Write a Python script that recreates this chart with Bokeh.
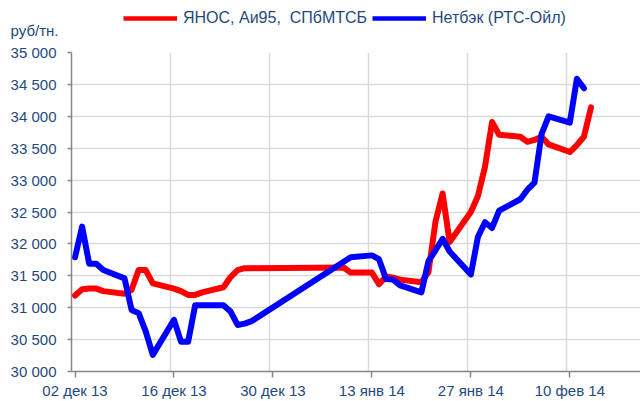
import pandas as pd
from bokeh.plotting import figure
from bokeh.layouts import column
from bokeh.models import FixedTicker, Legend, LegendItem, LinearAxis, Range1d
from bokeh.embed import file_html
from bokeh.resources import INLINE

# ---------------- data ----------------
start_date = "2013-12-02"

yanos_dates = [
    "2013-12-02", "2013-12-03", "2013-12-04", "2013-12-05", "2013-12-06",
    "2013-12-09", "2013-12-10", "2013-12-11", "2013-12-12", "2013-12-13",
    "2013-12-16", "2013-12-17", "2013-12-18", "2013-12-19", "2013-12-20",
    "2013-12-23", "2013-12-24", "2013-12-25", "2013-12-26", "2013-12-27",
    "2014-01-09", "2014-01-10",
    "2014-01-13", "2014-01-14", "2014-01-15", "2014-01-16", "2014-01-17",
    "2014-01-20", "2014-01-21", "2014-01-22", "2014-01-23", "2014-01-24",
    "2014-01-27", "2014-01-28", "2014-01-29", "2014-01-30", "2014-01-31",
    "2014-02-03", "2014-02-04", "2014-02-05", "2014-02-06", "2014-02-07",
    "2014-02-10", "2014-02-11", "2014-02-12", "2014-02-13",
]
yanos_values = [
    31190, 31290, 31300, 31300, 31260,
    31220, 31280, 31590, 31590, 31380,
    31300, 31260, 31200, 31200, 31240,
    31320, 31480, 31590, 31620, 31620,
    31630, 31550,
    31550, 31370, 31490, 31470, 31440,
    31400, 31560, 32350, 32790, 32030,
    32500, 32750, 33210, 33910, 33710,
    33680, 33600, 33630, 33680, 33560,
    33440, 33550, 33680, 34140,
]

netback_dates = [
    "2013-12-02", "2013-12-03", "2013-12-04", "2013-12-05", "2013-12-06",
    "2013-12-09", "2013-12-10", "2013-12-11", "2013-12-12", "2013-12-13",
    "2013-12-16", "2013-12-17", "2013-12-18", "2013-12-19", "2013-12-20",
    "2013-12-23", "2013-12-24", "2013-12-25", "2013-12-26", "2013-12-27",
    "2014-01-10",
    "2014-01-13", "2014-01-14", "2014-01-15", "2014-01-16", "2014-01-17",
    "2014-01-20", "2014-01-21", "2014-01-22", "2014-01-23", "2014-01-24",
    "2014-01-27", "2014-01-28", "2014-01-29", "2014-01-30", "2014-01-31",
    "2014-02-03", "2014-02-04", "2014-02-05", "2014-02-06", "2014-02-07",
    "2014-02-10", "2014-02-11", "2014-02-12",
]
netback_values = [
    31790, 32270, 31690, 31690, 31590,
    31460, 30965, 30915, 30630, 30260,
    30810, 30465, 30465, 31040, 31040,
    31040, 30940, 30730, 30750, 30790,
    31790,
    31820, 31760, 31450, 31440, 31350,
    31240, 31730, 31900, 32080, 31880,
    31520, 32110, 32340, 32250, 32520,
    32700, 32850, 32960, 33720, 34000,
    33900, 34590, 34440,
]

x_tick_dates = ["2013-12-02", "2013-12-16", "2013-12-30",
                "2014-01-13", "2014-01-27", "2014-02-10"]
x_tick_labels = ["02 дек 13", "16 дек 13", "30 дек 13",
                 "13 янв 14", "27 янв 14", "10 фев 14"]
y_ticks = [30000, 30500, 31000, 31500, 32000, 32500,
           33000, 33500, 34000, 34500, 35000]
y_tick_labels = ["30 000", "30 500", "31 000", "31 500", "32 000", "32 500",
                 "33 000", "33 500", "34 000", "34 500", "35 000"]

series_names = ["ЯНОС, Аи95,  СПбМТСБ", "Нетбэк (РТС-Ойл)"]
series_colors = ["#FF0000", "#0000FF"]
unit_label = "руб/тн."

# ---------------- helpers ----------------
t0 = pd.Timestamp(start_date)


def day_offset(dates):
    return [(pd.Timestamp(d) - t0).days for d in dates]


HALF = 0.5  # points / labels sit in the middle of each day slot
FONT = "Liberation Sans"
TXT = "#1F497D"
AXIS = "#868686"
GRID = "#D9D9D9"
W = 640
HEAD_H = 40
LEFT = 71

x_tick_days = day_offset(x_tick_dates)
x_label_pos = [d + HALF for d in x_tick_days]
series = [(day_offset(yanos_dates), yanos_values),
          (day_offset(netback_dates), netback_values)]

# ---------------- header (legend keys + unit label) ----------------
head = figure(width=W, height=HEAD_H, output_backend="svg", toolbar_location=None,
              x_range=Range1d(0, 1), y_range=Range1d(HEAD_H, 0),
              x_axis_location=None, y_axis_location=None,
              min_border=0, min_border_left=LEFT, min_border_right=0,
              min_border_top=0, min_border_bottom=0)
head.outline_line_color = None
head.xgrid.visible = False
head.ygrid.visible = False

# the unit label is drawn as the single tick label of a bare left axis
unit_axis = LinearAxis(ticker=FixedTicker(ticks=[30]),
                       major_label_overrides={30: unit_label},
                       axis_line_color=None, major_tick_line_color=None,
                       minor_tick_line_color=None, major_tick_out=0,
                       major_tick_in=0, major_label_standoff=13,
                       major_label_text_font=FONT,
                       major_label_text_font_size="15px",
                       major_label_text_color=TXT)
head.add_layout(unit_axis, "left")

# key renderers: same series data, which falls outside the header's ranges
key_x = [52, 301]  # left edge of each legend key, px from the frame's left
for (xs, ys), name, col, kx in zip(series, series_names, series_colors, key_x):
    r = head.line(xs, ys, line_width=4.5, line_color=col)
    head.add_layout(Legend(items=[LegendItem(label=name, renderers=[r])],
                           orientation="horizontal", location=(kx, 13),
                           glyph_width=54, glyph_height=16, label_height=16,
                           label_standoff=6, spacing=0, padding=0, margin=0,
                           border_line_color=None, background_fill_alpha=0,
                           label_text_font=FONT, label_text_font_size="16px",
                           label_text_color=TXT), "center")

# ---------------- main chart ----------------
p = figure(width=W, height=401 - HEAD_H, output_backend="svg", toolbar_location=None,
           x_range=Range1d(0, 80.5), y_range=Range1d(30000, 35000),
           min_border_left=LEFT, min_border_right=0, min_border_top=12,
           min_border_bottom=27)
p.outline_line_color = None
p.background_fill_color = "white"
p.border_fill_color = "white"

for (xs, ys), col in zip(series, series_colors):
    p.line([d + HALF for d in xs], ys, line_width=6, line_color=col,
           line_join="round", line_cap="round")

# x axis: labels centred in the day slot, grid on the day boundary
p.xaxis.ticker = FixedTicker(ticks=x_label_pos)
p.xaxis.major_label_overrides = dict(zip(x_label_pos, x_tick_labels))
p.xaxis.minor_tick_line_color = None
p.xaxis.major_tick_out = 6
p.xaxis.major_tick_in = 0
p.xaxis.major_label_standoff = 4
p.xaxis.axis_line_color = AXIS
p.xaxis.axis_line_width = 1.5
p.xaxis.major_tick_line_color = AXIS
p.xaxis.major_tick_line_width = 1.5
p.xaxis.major_label_text_font = FONT
p.xaxis.major_label_text_font_size = "15px"
p.xaxis.major_label_text_color = TXT

p.yaxis.ticker = FixedTicker(ticks=y_ticks)
p.yaxis.major_label_overrides = dict(zip(y_ticks, y_tick_labels))
p.yaxis.minor_tick_line_color = None
p.yaxis.major_tick_out = 4
p.yaxis.major_tick_in = 0
p.yaxis.major_label_standoff = 11
p.yaxis.axis_line_color = AXIS
p.yaxis.axis_line_width = 1.5
p.yaxis.major_tick_line_color = AXIS
p.yaxis.major_tick_line_width = 1.5
p.yaxis.major_label_text_font = FONT
p.yaxis.major_label_text_font_size = "15px"
p.yaxis.major_label_text_color = TXT

p.xgrid.ticker = FixedTicker(ticks=x_tick_days)
p.ygrid.ticker = FixedTicker(ticks=y_ticks)
p.xgrid.grid_line_color = GRID
p.ygrid.grid_line_color = GRID
p.xgrid.grid_line_width = 1.5
p.ygrid.grid_line_width = 1.5

layout = column(head, p, spacing=0)
open("out.html", "w").write(file_html(layout, INLINE))
